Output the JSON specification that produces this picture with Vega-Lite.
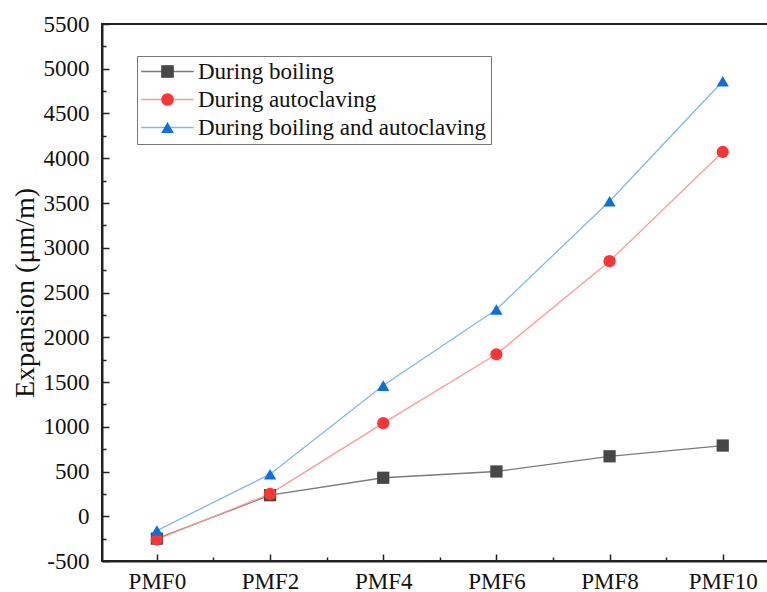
{
  "$schema": "https://vega.github.io/schema/vega-lite/v6.json",
  "autosize": "none",
  "padding": {"left": 102, "top": 24, "right": 0, "bottom": 31},
  "width": 666,
  "height": 537,
  "config": {
    "view": {"stroke": "#222", "strokeWidth": 2},
    "font": "Liberation Serif"
  },
  "data": {
    "values": [
      {"pmf": 0, "series": "During boiling", "expansion": -250},
      {"pmf": 2, "series": "During boiling", "expansion": 235},
      {"pmf": 4, "series": "During boiling", "expansion": 430},
      {"pmf": 6, "series": "During boiling", "expansion": 500},
      {"pmf": 8, "series": "During boiling", "expansion": 670},
      {"pmf": 10, "series": "During boiling", "expansion": 790},
      {"pmf": 0, "series": "During autoclaving", "expansion": -260},
      {"pmf": 2, "series": "During autoclaving", "expansion": 250},
      {"pmf": 4, "series": "During autoclaving", "expansion": 1040},
      {"pmf": 6, "series": "During autoclaving", "expansion": 1810},
      {"pmf": 8, "series": "During autoclaving", "expansion": 2850},
      {"pmf": 10, "series": "During autoclaving", "expansion": 4070},
      {"pmf": 0, "series": "During boiling and autoclaving", "expansion": -160},
      {"pmf": 2, "series": "During boiling and autoclaving", "expansion": 470},
      {"pmf": 4, "series": "During boiling and autoclaving", "expansion": 1460},
      {"pmf": 6, "series": "During boiling and autoclaving", "expansion": 2310},
      {"pmf": 8, "series": "During boiling and autoclaving", "expansion": 3520},
      {"pmf": 10, "series": "During boiling and autoclaving", "expansion": 4860}
    ]
  },
  "encoding": {
    "x": {
      "field": "pmf", "type": "quantitative",
      "scale": {"domain": [-0.97, 10.8], "nice": false, "zero": false},
      "axis": {
        "title": null,
        "values": [0, 1, 2, 3, 4, 5, 6, 7, 8, 9, 10],
        "labelExpr": "datum.value % 2 === 0 ? 'PMF' + datum.value : ''",
        "grid": false,
        "domainColor": "#222", "domainWidth": 2,
        "tickColor": "#222", "tickWidth": 1.5,
        "tickSize": {"condition": {"test": "datum.value % 2 === 0", "value": -7}, "value": -4},
        "labelPadding": 16,
        "labelFontSize": 23, "labelColor": "#111", "labelFont": "Liberation Serif"
      }
    },
    "y": {
      "field": "expansion", "type": "quantitative",
      "scale": {"domain": [-500, 5500], "nice": false, "zero": false},
      "axis": {
        "title": "Expansion (μm/m)",
        "titleFontSize": 28, "titleFontWeight": "normal", "titleColor": "#111", "titleFont": "Liberation Serif",
        "titlePadding": 4,
        "values": [-500, -250, 0, 250, 500, 750, 1000, 1250, 1500, 1750, 2000, 2250, 2500, 2750, 3000, 3250, 3500, 3750, 4000, 4250, 4500, 4750, 5000, 5250, 5500],
        "labelExpr": "datum.value % 500 === 0 ? datum.value : ''",
        "grid": false,
        "domainColor": "#222", "domainWidth": 2,
        "tickColor": "#222", "tickWidth": 1.5,
        "tickSize": {"condition": {"test": "datum.value % 500 === 0", "value": -7}, "value": -4},
        "labelPadding": 20,
        "labelFontSize": 23, "labelColor": "#111", "labelFont": "Liberation Serif"
      }
    }
  },
  "layer": [
    {
      "transform": [{"calculate": "datum.series", "as": "line_series"}],
      "mark": {"type": "line", "strokeWidth": 1.3},
      "encoding": {
        "stroke": {
          "field": "line_series", "type": "nominal",
          "sort": ["During boiling", "During autoclaving", "During boiling and autoclaving"],
          "scale": {"range": ["#7a7a7a", "#ff9a9a", "#82b8ec"]},
          "legend": {
            "title": null, "orient": "none", "legendX": 35, "legendY": 32,
            "symbolType": "M-4.3,0H4.3", "symbolSize": 150, "symbolStrokeWidth": 1.3, "symbolOffset": 15,
            "labelFontSize": 23, "labelFont": "Liberation Serif", "labelColor": "#111", "labelLimit": 400,
            "labelOffset": 19, "rowPadding": 4, "padding": 4,
            "strokeColor": "#777", "fillColor": "white"
          }
        }
      }
    },
    {
      "mark": {"type": "point", "filled": true, "opacity": 1, "size": 150},
      "encoding": {
        "fill": {
          "field": "series", "type": "nominal",
          "scale": {"domain": ["During boiling", "During autoclaving", "During boiling and autoclaving"], "range": ["#474747", "#ff3535", "#0a6fe0"]},
          "legend": {
            "title": null, "orient": "none", "legendX": 35, "legendY": 32,
            "symbolOffset": 15,
            "labelFontSize": 23, "labelFont": "Liberation Serif", "labelOpacity": 0, "labelLimit": 400,
            "labelOffset": 19, "rowPadding": 4, "padding": 4, "symbolSize": 160, "symbolOpacity": 1
          }
        },
        "shape": {
          "field": "series", "type": "nominal",
          "scale": {"domain": ["During boiling", "During autoclaving", "During boiling and autoclaving"], "range": ["square", "circle", "triangle-up"]}
        }
      }
    }
  ]
}
